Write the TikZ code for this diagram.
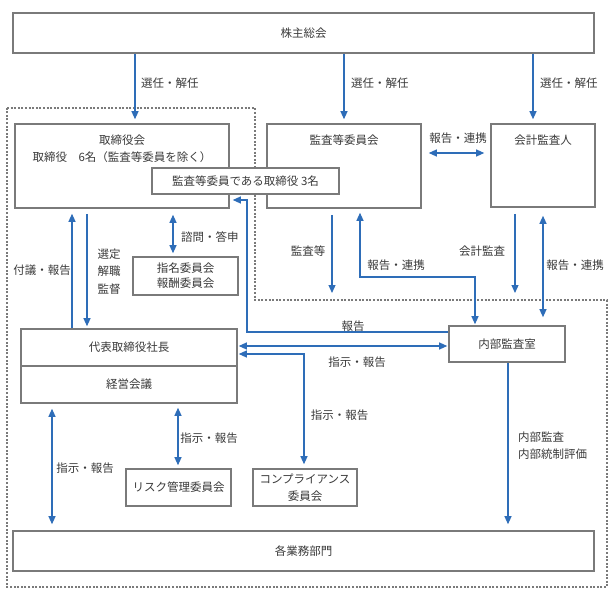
\documentclass[tikz,border=0pt]{standalone}
\usepackage{fontspec}
\setmainfont{Noto Sans CJK JP}
\usepackage{tikz}
\usetikzlibrary{arrows.meta, positioning}
\definecolor{boxgray}{HTML}{7A7A7A}
\definecolor{arrblue}{HTML}{2E6DB8}
\definecolor{txtgray}{HTML}{3A3A3A}

\begin{document}
\begin{tikzpicture}[x=1pt, y=-1pt,
  font=\fontsize{11.5}{17}\selectfont, text=txtgray,
  box/.style={draw=boxgray, line width=1.6pt, fill=white, inner sep=0pt},
  lab/.style={inner sep=1pt},
  arr/.style={draw=arrblue, line width=1.2pt, -{Triangle[width=7pt,length=8pt]}},
  darr/.style={arr, {Triangle[width=7pt,length=8pt]}-{Triangle[width=7pt,length=8pt]}}]
\useasboundingbox (0,0) rectangle (613,599);
%
\draw[boxgray, line width=2pt, dash pattern=on 2pt off 1.6pt]
  (7,108) -- (255,108) -- (255,300) -- (607,300) -- (607,587) -- (7,587) -- cycle;
%
\node[box, minimum width=581pt, minimum height=40pt] (sh) at (303.5,33) {株主総会};
\node[box, minimum width=214pt, minimum height=84pt] (tb) at (122,166) {};
\node[lab, align=center] (tbt) at (122,148.5) {取締役会\\取締役　6名（監査等委員を除く）};
\node[box, minimum width=154pt, minimum height=84pt] (ka) at (344,166) {};
\node[lab] (kat) at (344,140) {監査等委員会};
\node[box, minimum width=104pt, minimum height=83pt] (kk) at (543,165.5) {};
\node[lab] (kkt) at (543,140) {会計監査人};
\node[box, minimum width=187pt, minimum height=26pt] (kt) at (245.5,181) {監査等委員である取締役 3名};
\node[box, minimum width=105pt, minimum height=38pt, align=center,
      font=\fontsize{11.5}{15}\selectfont] (sm) at (185.5,276) {指名委員会\\報酬委員会};
\node[box, minimum width=216pt, minimum height=37pt] (dh) at (129,347.5) {代表取締役社長};
\node[box, minimum width=216pt, minimum height=37pt] (kg) at (129,384.5) {経営会議};
\node[box, minimum width=116pt, minimum height=36pt] (nb) at (507,344) {内部監査室};
\node[box, minimum width=105pt, minimum height=37pt] (rk) at (178.5,487.5) {リスク管理委員会};
\node[box, minimum width=104pt, minimum height=37pt, align=center] (cp) at (305,487.5) {コンプライアンス\\委員会};
\node[box, minimum width=581pt, minimum height=40pt] (kb) at (303.5,551) {各業務部門};
\coordinate (ke1) at (332,293);
\coordinate (ke2) at (515,293);
%
\draw[arr, shorten >=4pt] (135,0 |- sh.south) -- (135,0 |- tb.north);
\draw[arr, shorten >=4pt] (344,0 |- sh.south) -- (344,0 |- ka.north);
\draw[arr, shorten >=4pt] (533,0 |- sh.south) -- (533,0 |- kk.north);
\draw[darr, shorten <=7pt, shorten >=6pt] (ka.east |- 0,153) -- (kk.west |- 0,153);
\draw[arr, shorten >=5pt] (72,0 |- dh.north) -- (72,0 |- tb.south);
\draw[arr, shorten <=5pt, shorten >=2pt] (87,0 |- tb.south) -- (87,0 |- dh.north);
\draw[darr, shorten <=6pt, shorten >=3pt] (173,0 |- tb.south) -- (173,0 |- sm.north);
\draw[arr, shorten >=3pt] (nb.west |- 0,332) -| (247,200) -- (tb.east |- 0,200);
\draw[darr, shorten <=1pt, shorten >=1pt] (dh.east |- 0,346) -- (nb.west |- 0,346);
\draw[darr, shorten <=1pt, shorten >=4pt] (dh.east |- 0,354) -| (304,0 |- cp.north);
\draw[darr, shorten <=4pt, shorten >=3pt] (178,0 |- kg.south) -- (178,0 |- rk.north);
\draw[darr, shorten <=5pt, shorten >=6pt] (52,0 |- kg.south) -- (52,0 |- kb.north);
\draw[arr, shorten <=6pt] (332,0 |- ka.south) -- (ke1);
\draw[darr, shorten <=1pt, shorten >=4pt] (475,0 |- nb.north) -- (475,277) -| (360,0 |- ka.south);
\draw[arr, shorten <=6pt] (515,0 |- kk.south) -- (ke2);
\draw[darr, shorten <=8pt, shorten >=8pt] (543,0 |- nb.north) -- (543,0 |- kk.south);
\draw[arr, shorten >=6pt] (508,0 |- nb.south) -- (508,0 |- kb.north);
%
\node[lab, anchor=west] (sn1) at (140,83) {選任・解任};
\node[lab, anchor=west] (sn2) at (350,83) {選任・解任};
\node[lab, anchor=west] (sn3) at (539,83) {選任・解任};
\node[lab] (hr1) at (458,138) {報告・連携};
\node[lab] (fg) at (42,270) {付議・報告};
\node[lab, align=center, font=\fontsize{11.5}{17.5}\selectfont] (st) at (109,271.5) {選定\\解職\\監督};
\node[lab, anchor=west] (sm1) at (180,237) {諮問・答申};
\node[lab] (ks) at (308,251) {監査等};
\node[lab] (hr2) at (396,265) {報告・連携};
\node[lab] (kks) at (482,251) {会計監査};
\node[lab] (hr3) at (575,265) {報告・連携};
\node[lab] (hk) at (353,326) {報告};
\node[lab] (sj1) at (357,362) {指示・報告};
\node[lab] (sj2) at (339.5,415) {指示・報告};
\node[lab] (sj3) at (209,438) {指示・報告};
\node[lab] (sj4) at (85,468) {指示・報告};
\node[lab, anchor=west, align=left] (nk) at (517,445.5) {内部監査\\内部統制評価};
%
\end{tikzpicture}
\end{document}
